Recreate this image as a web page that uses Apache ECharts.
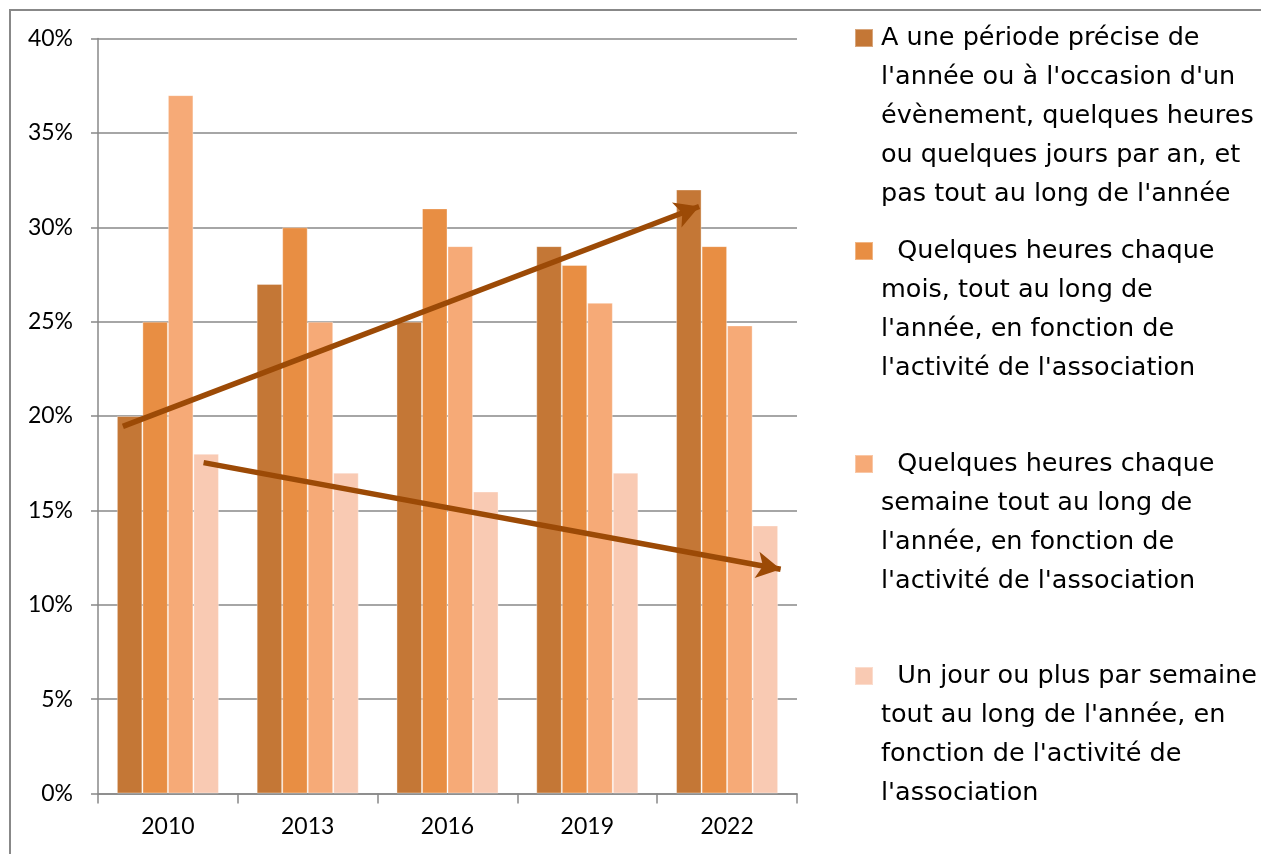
<!DOCTYPE html>
<html>
<head>
<meta charset="utf-8">
<script src="https://cdn.jsdelivr.net/npm/echarts@6/dist/echarts.min.js"></script>
<style>
html,body{margin:0;padding:0;background:#fff;}
#chart{width:1261px;height:854px;}
</style>
</head>
<body>
<div id="chart"></div>
<script>
// ---- data ----
const categories = ['2010', '2013', '2016', '2019', '2022'];
const seriesNames = [
  "A une période précise de l'année ou à l'occasion d'un évènement, quelques heures ou quelques jours par an, et pas tout au long de l'année",
  "Quelques heures chaque mois, tout au long de l'année, en fonction de l'activité de l'association",
  "Quelques heures chaque semaine tout au long de l'année, en fonction de l'activité de l'association",
  "Un jour ou plus par semaine tout au long de l'année, en fonction de l'activité de l'association"
];
const periodePrecise = [20, 27, 25, 29, 32];
const heuresMois = [25, 30, 31, 28, 29];
const heuresSemaine = [37, 25, 29, 26, 24.8];
const jourSemaine = [18, 17, 16, 17, 14.2];
const yTicks = [0, 5, 10, 15, 20, 25, 30, 35, 40];
// legend labels as printed (line breaks as in the reference)
const legendLines = [
  ["A une période précise de", "l'année ou à l'occasion d'un", "évènement, quelques heures", "ou quelques jours par an, et", "pas tout au long de l'année"],
  ["  Quelques heures chaque", "mois, tout au long de", "l'année, en fonction de", "l'activité de l'association"],
  ["  Quelques heures chaque", "semaine tout au long de", "l'année, en fonction de", "l'activité de l'association"],
  ["  Un jour ou plus par semaine", "tout au long de l'année, en", "fonction de l'activité de", "l'association"]
];
// trend arrows (annotation), in [category position, %] space
const trendUp = [[0.178, 19.45], [4.30, 31.1]];
const trendDown = [[0.755, 17.53], [4.883, 11.88]];

// ---- style ----
const colors = ['#C47736', '#E88E43', '#F6AA77', '#F9CAB3'];
const FONT = 'Lato';
const LEGEND_FONT = 'DejaVu Sans';
const LH = 39;
const iconCenters = [38, 251, 464, 676];
const gray = '#888888';

const values = [periodePrecise, heuresMois, heuresSemaine, jourSemaine];

const legends = seriesNames.map((name, i) => {
  const n = legendLines[i].length;
  // blank lines before the text so that the first text line sits beside the icon
  const blank = new Array(n - 1).fill(' ');
  return {
    data: [name],
    orient: 'vertical',
    left: 854,
    top: iconCenters[i] - (2 * n - 1) * LH / 2,
    padding: 0,
    itemWidth: 18,
    itemHeight: 18,
    icon: 'rect',
    selectedMode: false,
    formatter: () => blank.concat(legendLines[i]).join('\n'),
    textStyle: {
      fontFamily: LEGEND_FONT,
      fontSize: 25.5,
      color: '#000',
      lineHeight: LH,
      padding: [0, 0, 0, 3]
    }
  };
});

const chart = echarts.init(document.getElementById('chart'), null, {renderer: 'canvas'});
const option = {
  animation: false,
  backgroundColor: '#fff',
  color: colors,
  grid: {left: 98, right: 464, top: 38.5, bottom: 60.5, containLabel: false},
  legend: legends,
  xAxis: [{
    type: 'category',
    data: categories,
    boundaryGap: true,
    axisLine: {lineStyle: {color: gray, width: 1.5}},
    axisTick: {show: true, length: 10, lineStyle: {color: gray, width: 1.5}},
    axisLabel: {fontFamily: FONT, fontSize: 23, color: '#000', margin: 22}
  }, {
    type: 'value',
    min: 0, max: 5,
    show: false
  }],
  yAxis: {
    type: 'value',
    min: yTicks[0],
    max: yTicks[yTicks.length - 1],
    interval: yTicks[1] - yTicks[0],
    axisLine: {show: true, lineStyle: {color: gray, width: 1.5}},
    axisTick: {show: true, length: 7, lineStyle: {color: gray, width: 1.5}},
    axisLabel: {fontFamily: FONT, fontSize: 23, color: '#000', margin: 25, formatter: '{value}%'},
    splitLine: {show: true, lineStyle: {color: gray, width: 1.5}}
  },
  series: values.map((v, i) => ({
    name: seriesNames[i],
    type: 'bar',
    data: v,
    barGap: '0%',
    barCategoryGap: '27%',
    itemStyle: {color: colors[i], borderColor: 'rgba(255,255,255,0.35)', borderWidth: 1}
  })).concat([{
    name: 'trend',
    type: 'line',
    xAxisIndex: 1,
    data: [],
    silent: true,
    markLine: {
      silent: true,
      symbol: ['none', 'arrow'],
      symbolSize: [20, 24],
      label: {show: false},
      lineStyle: {color: '#9C4A06', width: 5.5, type: 'solid'},
      emphasis: {disabled: true},
      data: [
        [{coord: trendUp[0]}, {coord: trendUp[1]}],
        [{coord: trendDown[0]}, {coord: trendDown[1]}]
      ]
    }
  }]),
  graphic: [{
    type: 'rect',
    shape: {x: 10, y: 10, width: 1400, height: 1000},
    style: {fill: 'none', stroke: gray, lineWidth: 2},
    silent: true,
    z: 100
  }]
};
chart.setOption(option);
</script>
</body>
</html>
